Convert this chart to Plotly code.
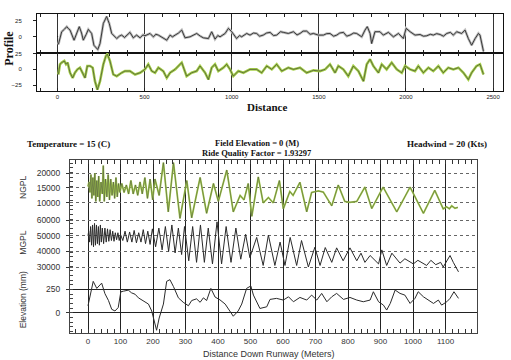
import plotly.graph_objects as go

W, H = 511, 360

# ---------------- Top panel data (Profile vs Distance) ----------------
prof_d = [5, 24, 40, 53, 62, 72, 95, 110, 125, 138, 148, 165, 177, 196, 209, 231, 244, 263, 282, 290, 297, 311, 340,
          355, 368, 385, 397, 416, 435, 454, 474, 490, 502, 531, 550, 565, 579, 607, 627, 646, 660, 675, 695, 713, 732,
          761, 780, 799, 820, 837, 866, 885, 904, 920, 933, 962, 981, 1000, 1028, 1045, 1057, 1086, 1105, 1125, 1143,
          1160, 1181, 1200, 1220, 1240, 1258, 1280, 1296, 1325, 1354, 1375, 1392, 1410, 1430, 1450, 1469, 1497, 1526,
          1545, 1564, 1585, 1603, 1620, 1641, 1660, 1679, 1700, 1717, 1746, 1765, 1778, 1794, 1803, 1822, 1851, 1870,
          1899, 1928, 1957, 1985, 2001, 2024, 2052, 2081, 2100, 2119, 2140, 2157, 2176, 2196, 2215, 2234, 2255, 2272,
          2291, 2320, 2339, 2358, 2377, 2397, 2416, 2425, 2435, 2445]
prof_v = [-12, 8, 12, 16, 13, 10.6, -5.3, 4, 16, 6, -5.3, 4, 11.7, 5.3, -13.3, -20, -10.6, 21, 32, 26, 21, 5.3, -2.7,
          1, 2.7, -1, 2.7, 7, -1.6, 2.7, -1.6, 3, 1.6, 5.3, 0, 4, 2.7, -2.7, -5.3, 2.7, 0, 2.7, 6, 10.6, -1.6,
          0, 3, 5.3, 1, -1.6, -2.7, 8, -3.7, 2, 0, 5.3, 13.3, 8, -2.7, 2, 0, 5.3, 2.7, 6, 5.3,
          1, 2.7, 6, 7, 2, 2.7, 8, 7, 5.3, 8, 3, 5.3, 9, 9, 4, 5.3, 2.7, 2.7,
          5, 5.3, 1, 2.7, 6, 7, 1, 2.7, 6, 5.3, 0, 10.6, 16, 5.3, -10.6, 8, 8, 2.7,
          7, 0, 5.3, -2.7, 13.3, 8, 2.7, 3.7, 1, 1.6, 4, 2.7, 5, 3.7, 1, 5.3, 7, 2.7,
          8, 5.3, 10.6, -2.7, -13.3, -2.7, 5.3, 2.7, -10.6, -23]

filt_d = [5, 14, 24, 39, 49, 58, 72, 87, 100, 114, 129, 144, 158, 171, 187, 202, 215, 229, 244, 263, 278, 286, 301,
          320, 340, 368, 387, 416, 445, 474, 502, 521, 541, 560, 579, 607, 627, 646, 675, 713, 741, 770, 799, 818,
          847, 866, 885, 904, 923, 952, 971, 990, 1009, 1038, 1067, 1105, 1143, 1172, 1201, 1230, 1258, 1287, 1325,
          1354, 1392, 1430, 1469, 1507, 1536, 1564, 1593, 1612, 1641, 1669, 1698, 1727, 1756, 1775, 1794, 1813, 1842,
          1861, 1889, 1918, 1947, 1976, 1995, 2024, 2052, 2071, 2100, 2129, 2157, 2186, 2214, 2243, 2272, 2301, 2330,
          2358, 2377, 2405, 2425, 2445]
filt_v = [-8.1, 8.1, 10.8, 13.5, 8.1, 10.8, -5.4, -13.5, -5.4, 0, 2.7, -5.4, -13.5, 5.4, 5.4, 2.7, -18.9, -32.4,
          -18.9, 8.1, 21.6, 24.3, 13.5, -8.1, -10.8, -5.4, -2.7, -2.7, -8.1, -5.4, 0, 8.1, -2.7, -5.4, 2.7, -2.7,
          -13.5, -5.4, 0, 10.8, -10.8, -5.4, -2.7, 5.4, -5.4, -16.2, 2.7, 8.1, -2.7, 2.7, 8.1, 0, -10.8, -2.7, -5.4,
          0, 0, -5.4, 5.4, 0, 8.1, -2.7, 2.7, 0, 2.7, -5.4, -1.6, -2.7, 0, 8.1, -5.4, 5.4, 0, -10.8, 5.4, -2.7,
          -18.9, 8.1, 16.2, 5.4, -5.4, 8.1, 0, 10.8, 0, -5.4, 5.4, 0, -2.7, 5.4, -5.4, 2.7, -2.7, 5.4, -5.4, 2.7, 0,
          2.7, -5.4, -16.2, -5.4, 5.4, 8.1, -8.1]

top_tick_step = 500
top_minor_step = 100

# ---------------- Lower panel data ----------------
ngpl_d = [0, 3, 6, 9, 12, 15, 18, 21, 24, 27, 30, 33, 36, 40, 44, 47, 50, 54, 58, 62, 66, 70, 74, 78, 82, 86, 90, 94,
          98, 104, 111, 118, 125, 132, 139, 146, 153, 160, 167, 175, 183, 191, 199, 206, 219, 232, 247, 263, 283, 304,
          319, 345, 365, 386, 401, 427, 447, 468, 480, 493, 504, 524, 539, 555, 570, 589, 601, 621, 631, 652, 673,
          688, 709, 724, 750, 770, 790, 806, 827, 852, 873, 908, 950, 991, 1032, 1067, 1093, 1103, 1112, 1119, 1129,
          1138]
ngpl_v = [15500, 17000, 13500, 19500, 11500, 18500, 12500, 20000, 10500, 17500, 12000, 19000, 10500, 17000, 13000,
          22500, 10500, 18000, 12000, 19500, 11000, 18000, 12500, 17000, 11500, 18500, 12000, 16500, 13500, 16500,
          13500, 16000, 13000, 17500, 13000, 16000, 12500, 17000, 13000, 18500, 11500, 18000, 11000, 18000, 12500,
          23500, 7000, 23500, 4800, 17500, 5000, 18500, 6500, 16500, 10500, 21000, 7000, 12500, 11000, 16500, 5500,
          18700, 10000, 11800, 10000, 17500, 8000, 13800, 12500, 16900, 7000, 13500, 14000, 13600, 9000, 16000, 10500,
          10200, 10500, 15300, 8100, 15300, 7000, 15300, 6500, 14200, 8000, 8700, 8000, 9000, 8200, 8500]

mgpl_d = [0, 2, 5, 8, 11, 14, 17, 20, 23, 26, 29, 32, 35, 38, 41, 44, 48, 52, 56, 60, 64, 68, 72, 76, 80, 84, 88, 92,
          96, 100, 107, 114, 121, 128, 135, 142, 149, 156, 163, 170, 177, 184, 191, 198, 208, 218, 228, 238, 248, 258,
          268, 278, 288, 297, 310, 322, 334, 346, 358, 370, 383, 397, 411, 425, 440, 455, 470, 485, 498, 519, 539, 555,
          575, 591, 606, 622, 642, 657, 678, 698, 714, 730, 750, 765, 785, 806, 827, 840, 852, 868, 894, 904, 919, 935,
          960, 975, 1001, 1015, 1042, 1055, 1070, 1085, 1093, 1114, 1124, 1140]
mgpl_v = [50000, 53000, 46000, 56000, 44000, 57000, 43000, 58000, 44000, 57000, 45000, 56000, 44000, 57000, 46000,
          55000, 45000, 55000, 46000, 54500, 46500, 54000, 47000, 53000, 46500, 52000, 47500, 52000, 47000, 51000,
          47000, 53000, 46000, 52500, 46000, 53500, 45500, 52000, 46000, 54000, 45000, 53000, 44500, 54500, 43000,
          55000, 41000, 56000, 40000, 57000, 39000, 55000, 38000, 56000, 34000, 56000, 33000, 57000, 33000, 55000,
          32000, 59000, 32000, 56000, 33000, 55000, 35000, 51000, 36000, 49000, 31000, 50500, 31000, 46000, 31000,
          49000, 31000, 47000, 30000, 42700, 31000, 42500, 33000, 42300, 34000, 42300, 34000, 38900, 33000, 37400,
          32000, 41000, 31000, 38900, 32500, 35300, 32000, 34300, 31000, 34300, 31500, 33000, 30000, 37400, 33000,
          26900]

elev_d = [0, 6, 16, 27, 37, 42, 52, 63, 73, 83, 93, 101, 109, 124, 134, 145, 155, 170, 186, 196, 203, 211, 219, 232,
          242, 252, 263, 278, 293, 309, 319, 334, 345, 355, 365, 378, 391, 406, 422, 437, 447, 462, 473, 488, 501, 509,
          529, 550, 560, 580, 601, 617, 632, 652, 673, 688, 704, 719, 735, 750, 765, 786, 806, 827, 847, 868, 878, 894,
          909, 919, 930, 945, 960, 975, 991, 1006, 1016, 1032, 1047, 1063, 1078, 1088, 1104, 1114, 1126, 1140]
elev_v = [75, 187, 336, 261, 298, 317, 205, 131, 37, 19, 56, 224, 231, 242, 213, 198, 160, 131, 93, 19, -93, -187,
          -56, 93, 336, 354, 280, 160, 112, 75, 131, 149, 112, 160, 131, 261, 168, 138, 93, 19, -37, 19, 93, 261, 287,
          189, 46, 64, 143, 154, 136, 171, 118, 164, 136, 189, 136, 207, 118, 171, 207, 143, 164, 136, 118, 136, 225,
          118, 82, 29, 100, 243, 207, 189, 100, 154, 225, 171, 136, 100, 136, 82, 118, 154, 225, 154]

ngpl_ticks = [10000, 15000, 20000]
mgpl_ticks = [30000, 40000, 50000, 60000]
elev_ticks = [0, 250]

GREEN = '#a6d04a'


def fx(px):
    return px / W


def fy(py):
    return 1 - py / H


fig = go.Figure()

# top panel traces
fig.add_trace(go.Scatter(x=prof_d, y=prof_v, xaxis='x', yaxis='y', mode='lines',
                         line=dict(color='#bdbdbd', width=2.6), hoverinfo='skip'))
fig.add_trace(go.Scatter(x=prof_d, y=prof_v, xaxis='x', yaxis='y', mode='lines',
                         line=dict(color='#2a2a2a', width=0.9)))
fig.add_trace(go.Scatter(x=filt_d, y=filt_v, xaxis='x2', yaxis='y2', mode='lines',
                         line=dict(color=GREEN, width=2.6), hoverinfo='skip'))
fig.add_trace(go.Scatter(x=filt_d, y=filt_v, xaxis='x2', yaxis='y2', mode='lines',
                         line=dict(color='#333333', width=0.6)))

# lower panel traces
fig.add_trace(go.Scatter(x=ngpl_d, y=ngpl_v, xaxis='x3', yaxis='y3', mode='lines',
                         line=dict(color=GREEN, width=1.8), hoverinfo='skip'))
fig.add_trace(go.Scatter(x=ngpl_d, y=ngpl_v, xaxis='x3', yaxis='y3', mode='lines',
                         line=dict(color='#444444', width=0.5)))
fig.add_trace(go.Scatter(x=mgpl_d, y=mgpl_v, xaxis='x3', yaxis='y4', mode='lines',
                         line=dict(color='#2a2a2a', width=1)))
fig.add_trace(go.Scatter(x=elev_d, y=elev_v, xaxis='x3', yaxis='y5', mode='lines',
                         line=dict(color='#2a2a2a', width=1)))

small_font = dict(family='Liberation Sans, Arial', size=6, color='#222')
lab_font = dict(family='Liberation Sans, Arial', size=8.5, color='#333')

top_x_common = dict(domain=[fx(37), fx(503)], range=[-117.7, 2557], tickmode='linear', tick0=0,
                    dtick=top_tick_step, ticks='inside', ticklen=3, tickcolor='#222',
                    minor=dict(tickmode='linear', tick0=0, dtick=top_minor_step, ticks='inside', ticklen=3,
                               tickcolor='#222', showgrid=False),
                    showline=True, linecolor='#111', linewidth=1, mirror='allticks',
                    showgrid=True, gridcolor='#333', gridwidth=1, zeroline=False, tickfont=small_font)

fig.update_layout(
    width=W, height=H, margin=dict(l=0, r=0, t=0, b=0),
    paper_bgcolor='white', plot_bgcolor='white', showlegend=False,
    xaxis=dict(anchor='y', showticklabels=False, **top_x_common),
    xaxis2=dict(anchor='y2', matches='x', showticklabels=True, **top_x_common),
    yaxis=dict(domain=[fy(51), fy(12)], anchor='x', range=[-25, 36], tickvals=[0, 25],
               ticks='outside', ticklen=3, tickcolor='#222', showline=True, linecolor='#111', mirror=True,
               showgrid=False, zeroline=False, tickfont=small_font, ticklabelstandoff=10),
    yaxis2=dict(domain=[fy(89), fy(51)], anchor='x2', range=[-33.7, 26.6], tickvals=[-25, 0, 25],
                ticks='outside', ticklen=3, tickcolor='#222', showline=True, linecolor='#111', mirror=True,
                showgrid=False, zeroline=False, tickfont=small_font, ticklabelstandoff=10),
    xaxis3=dict(domain=[fx(70), fx(477)], anchor='y3', range=[-55.4, 1196.9], tickmode='linear', tick0=0,
                dtick=100, ticks='inside', ticklen=4, tickcolor='#333',
                minor=dict(tickmode='linear', tick0=0, dtick=20, ticks='inside', ticklen=4, tickcolor='#333',
                           showgrid=False),
                showline=True, linecolor='#444', linewidth=1, mirror='allticks',
                showgrid=True, gridcolor='#222', gridwidth=1, zeroline=False,
                tickfont=dict(family='Liberation Sans, Arial', size=8, color='#333')),
    yaxis3=dict(domain=[fy(333), fy(159)], anchor='x3', range=[-33667, 24333], tickvals=ngpl_ticks,
                tickformat='d',
                ticks='outside', ticklen=3, tickcolor='#333', showline=True, linecolor='#444', mirror=True,
                showgrid=True, gridcolor='#666', griddash='dot', zeroline=False, tickfont=lab_font,
                ticklabelstandoff=4),
    yaxis4=dict(overlaying='y3', anchor='x3', side='left', range=[-12447, 98617], tickvals=mgpl_ticks,
                tickformat='d',
                ticks='outside', ticklen=3, tickcolor='#333', showgrid=True, gridcolor='#666', griddash='dot',
                zeroline=False, tickfont=lab_font, ticklabelstandoff=4),
    yaxis5=dict(overlaying='y3', anchor='x3', side='left', range=[-218, 1633], tickvals=elev_ticks,
                tickformat='d',
                ticks='outside', ticklen=3, tickcolor='#333', showgrid=True, gridcolor='#222',
                minor=dict(tickmode='linear', tick0=0, dtick=50, ticks='inside', ticklen=3, tickcolor='#444',
                           showgrid=False),
                zeroline=False, tickfont=lab_font, ticklabelstandoff=4),
)

serif_b = dict(family='Liberation Serif, Times New Roman', color='#111')
ann = [
    dict(text='<b>Profile</b>', x=fx(9), y=fy(47), textangle=-90, font=dict(size=12, **serif_b)),
    dict(text='<b>Distance</b>', x=fx(267), y=fy(106), font=dict(size=11, **serif_b)),
    dict(text='<b>Temperature = 15 (C)</b>', x=fx(25), y=fy(143), xanchor='left', font=dict(size=9, **serif_b)),
    dict(text='<b>Field Elevation = 0 (M)</b>', x=fx(257), y=fy(142), font=dict(size=8.5, **serif_b)),
    dict(text='<b>Ride Quality Factor = 1.93297</b>', x=fx(257), y=fy(151.5), font=dict(size=8.5, **serif_b)),
    dict(text='<b>Headwind = 20 (Kts)</b>', x=fx(447), y=fy(143), font=dict(size=9, **serif_b)),
    dict(text='NGPL', x=fx(23), y=fy(187), textangle=-90, font=lab_font),
    dict(text='MGPL', x=fx(23), y=fy(242), textangle=-90, font=lab_font),
    dict(text='Elevation (mm)', x=fx(23), y=fy(300), textangle=-90, font=lab_font),
    dict(text='Distance Down Runway (Meters)', x=fx(269), y=fy(354), font=dict(family='Liberation Sans, Arial',
                                                                                size=9, color='#333')),
]
for a in ann:
    a.update(xref='paper', yref='paper', showarrow=False)
    a.setdefault('xanchor', 'center')
    a.setdefault('yanchor', 'middle')
fig.update_layout(annotations=ann)

shapes = [
    # outer frame
    dict(type='rect', x0=fx(0.5), x1=fx(507.5), y0=fy(358.5), y1=fy(0.5), line=dict(color='#111', width=1)),
    dict(type='rect', x0=fx(508), x1=fx(511), y0=fy(360), y1=fy(2), fillcolor='#9a9a9a', line=dict(width=0)),
    # top panel shadow + dotted bottom band
    dict(type='rect', x0=fx(503), x1=fx(506), y0=fy(91), y1=fy(14), fillcolor='#a0a0a0', line=dict(width=0)),
    dict(type='line', x0=fx(37), x1=fx(503), y0=fy(90), y1=fy(90), line=dict(color='#555', width=1.5, dash='dot')),
    # lower panel shadow
    dict(type='rect', x0=fx(477), x1=fx(481), y0=fy(336), y1=fy(162), fillcolor='#9a9a9a', line=dict(width=0)),
    dict(type='rect', x0=fx(72), x1=fx(481), y0=fy(336), y1=fy(333.5), fillcolor='#9a9a9a', line=dict(width=0)),
]
fig.update_layout(shapes=shapes)

fig.write_html('out.html', config={'displayModeBar': False},
               post_script="document.body.style.margin='0px';document.body.style.overflow='hidden';")
